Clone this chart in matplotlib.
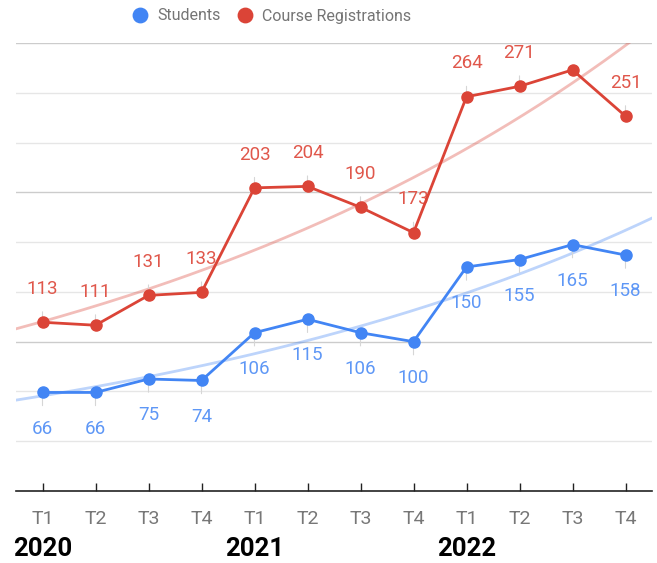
import matplotlib
matplotlib.use("Agg")
import matplotlib.pyplot as plt
import numpy as np

quarters = ["T1", "T2", "T3", "T4"] * 3
years = ["2020", "2021", "2022"]
students = [66, 66, 75, 74, 106, 115, 106, 100, 150, 155, 165, 158]
registrations = [113, 111, 131, 133, 203, 204, 190, 173, 264, 271, 282, 251]
reg_labelled = [True] * 10 + [False, True]

blue = "#4285F4"
red = "#DB4437"

plt.rcParams["font.family"] = ["Roboto", "DejaVu Sans"]

fig = plt.figure(figsize=(6.57, 5.63), dpi=100)
ax = fig.add_axes([16 / 657, 1 - 491 / 563, 636 / 657, 448 / 563])

x = np.arange(len(quarters))

# gridlines: minor every 33.3, darker at 100s
for v in np.linspace(0, 300, 10)[1:]:
    dark = abs(v - round(v / 100) * 100) < 1
    ax.axhline(v, color="#cccccc" if dark else "#e6e6e6", lw=1.0, zorder=0)

# exponential trendlines
xt = np.linspace(-0.5, 11.5, 200)
for vals, c in [(students, blue), (registrations, red)]:
    b, a = np.polyfit(x, np.log(vals), 1)
    ax.plot(xt, np.exp(a + b * xt), color=c, alpha=0.35, lw=2, zorder=1)

ax.plot(x, students, color=blue, lw=2, marker="o", ms=8, zorder=4, label="Students")
ax.plot(x, registrations, color=red, lw=2, marker="o", ms=8, zorder=4,
        label="Course Registrations")

for i, v in enumerate(students):
    ax.annotate(str(v), (i, v), xytext=(0, -26), textcoords="offset points",
                ha="center", va="center", fontsize=13.5, color="#5e97f6",
                arrowprops=dict(arrowstyle="-", color="#d6d6d6", lw=0.8,
                                shrinkA=8, shrinkB=0), zorder=2)
for i, v in enumerate(registrations):
    if not reg_labelled[i]:
        continue
    ax.annotate(str(v), (i, v), xytext=(0, 24), textcoords="offset points",
                ha="center", va="center", fontsize=13.5, color="#e0574b",
                arrowprops=dict(arrowstyle="-", color="#d6d6d6", lw=0.8,
                                shrinkA=8, shrinkB=0), zorder=2)

ax.set_xlim(-0.5, 11.5)
ax.set_ylim(0, 300)
ax.set_yticks([])
ax.set_xticks(x)
ax.set_xticklabels(quarters, color="#777777", fontsize=14)
ax.tick_params(axis="x", direction="in", length=6, width=1, color="#222222", pad=14)
for s in ["top", "right", "left"]:
    ax.spines[s].set_visible(False)
ax.spines["bottom"].set_color("#222222")
ax.spines["bottom"].set_linewidth(1.2)

for k, yr in enumerate(years):
    ax.text(k * 4, -0.13, yr, transform=ax.get_xaxis_transform(), ha="center",
            va="center", fontsize=18.5, fontweight="bold", color="#000000")

leg = fig.legend(loc="center", bbox_to_anchor=(0.4135, 1 - 16 / 563), ncol=2,
                 frameon=False, fontsize=11.5, handlelength=1.0, handletextpad=0.6,
                 columnspacing=1.0, markerscale=1.3)
for h in leg.legend_handles:
    h.set_linestyle("none")
for t in leg.get_texts():
    t.set_color("#757575")

fig.savefig("out.png", dpi=100)
